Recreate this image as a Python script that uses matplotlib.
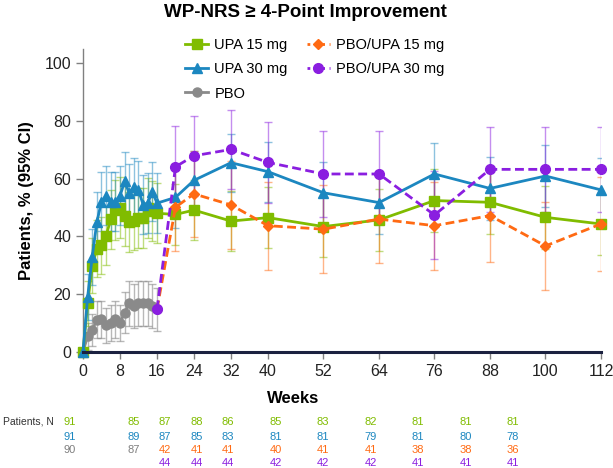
import matplotlib
matplotlib.use('Agg')
import matplotlib.pyplot as plt
from matplotlib.lines import Line2D

plt.rcParams['font.family'] = ['Liberation Sans', 'DejaVu Sans']

""" Data read off the reference chart """
weeks_db = [0, 1, 2, 3, 4, 5, 6, 7, 8, 9, 10, 11, 12, 13, 14, 15, 16]  # double-blind period
weeks_ext = [20, 24, 32, 40, 52, 64, 76, 88, 100, 112]  # blinded extension
weeks_switch = [16, 20, 24, 32, 40, 52, 64, 76, 88, 100, 112]

upa15 = [0, 16.8, 29.9, 35.8, 36.9, 40.3, 45.9, 49.0, 50.0, 47.0, 44.9, 45.5, 46.3, 46.4, 49.8, 48.7, 48.0,
         47.6, 49.1, 45.3, 46.5, 43.4, 45.7, 52.4, 51.8, 46.6, 44.3]
upa15_ci = [0, 7.7, 9.4, 9.9, 9.9, 10.1, 10.3, 10.4, 10.4, 10.4, 10.3, 10.3, 10.3, 10.3, 10.4, 10.4, 10.4,
            10.6, 10.5, 10.4, 10.5, 10.5, 10.7, 10.8, 10.9, 10.9, 10.8]
upa30 = [0, 19, 33, 45, 52, 54, 52, 52, 54, 59, 55, 57, 56, 51, 51.5, 55.5, 51.5,
         53.5, 59.4, 65.5, 62.4, 55.1, 51.7, 61.6, 56.6, 60.9, 56.1]
upa30_ci = [0, 8.1, 9.7, 10.2, 10.3, 10.2, 10.3, 10.3, 10.2, 10.1, 10.2, 10.2, 10.2, 10.3, 10.3, 10.2, 10.3,
            10.5, 10.3, 10.1, 10.4, 10.8, 10.9, 10.7, 10.8, 10.7, 11.0]
pbo = [0, 5.5, 7.6, 11.2, 11.3, 9.2, 10.0, 11.3, 10.1, 13.6, 16.8, 15.9, 16.8, 16.9, 16.8, 15.9, 14.8]
pbo_ci = [0, 4.7, 5.5, 6.5, 6.5, 6.0, 6.2, 6.5, 6.2, 7.1, 7.7, 7.6, 7.7, 7.8, 7.7, 7.6, 7.4]
pbo_upa15 = [14.8, 50.1, 54.7, 50.9, 43.7, 42.5, 46.0, 43.7, 47.2, 36.7, 44.3]
pbo_upa15_ci = [0, 15.1, 14.9, 15.3, 15.2, 15.3, 15.3, 15.2, 15.9, 15.3, 16.2]
pbo_upa30 = [14.8, 64.1, 67.9, 70.1, 65.6, 61.6, 61.6, 47.4, 63.2, 63.2, 63.2]
pbo_upa30_ci = [0, 14.0, 13.8, 13.6, 14.1, 14.8, 14.8, 15.1, 14.8, 14.8, 14.8]

xtick_weeks = [0, 8, 16, 24, 32, 40, 52, 64, 76, 88, 100, 112]

""" Patients, N table """
n_weeks = [0, 16, 24, 32, 40, 52, 64, 76, 88, 100, 112]
n_upa15 = [91, 85, 87, 88, 86, 85, 83, 82, 81, 81, 81]
n_upa30 = [91, 89, 87, 85, 83, 81, 81, 79, 81, 80, 78]
n_pbo = [90, 87]
n_pbo_upa15 = [42, 41, 41, 40, 41, 41, 38, 38, 36]
n_pbo_upa30 = [44, 44, 44, 42, 42, 42, 41, 41, 41]

GREEN = '#80bc00'
BLUE = '#1c87c0'
GREY = '#8a8a8a'
ORANGE = '#ff6a13'
PURPLE = '#8a1ee0'

fig = plt.figure(figsize=(6.13, 4.68), dpi=100)
ax = fig.add_axes([0.1354, 0.2479, 0.845, 0.6483])

weeks_all = weeks_db + weeks_ext
dash = (0, (3.2, 1.6))

# error bars first, lines on top
ax.errorbar(weeks_db, pbo, yerr=pbo_ci, fmt='none', ecolor=GREY, elinewidth=1, capsize=2.6, alpha=0.6, zorder=1)
ax.errorbar(weeks_all, upa15, yerr=upa15_ci, fmt='none', ecolor=GREEN, elinewidth=1, capsize=2.6, alpha=0.5, zorder=1)
ax.errorbar(weeks_all, upa30, yerr=upa30_ci, fmt='none', ecolor=BLUE, elinewidth=1, capsize=2.6, alpha=0.5, zorder=1)
ax.errorbar(weeks_switch[1:], pbo_upa15[1:], yerr=pbo_upa15_ci[1:], fmt='none', ecolor=ORANGE, elinewidth=1, capsize=2.6, alpha=0.5, zorder=1)
ax.errorbar(weeks_switch[1:], pbo_upa30[1:], yerr=pbo_upa30_ci[1:], fmt='none', ecolor=PURPLE, elinewidth=1, capsize=2.6, alpha=0.5, zorder=1)

ax.plot(weeks_db, pbo, color=GREY, lw=2, marker='o', ms=6.5, clip_on=False, zorder=3)
ax.plot(weeks_all, upa15, color=GREEN, lw=2, marker='s', ms=7, clip_on=False, zorder=3)
ax.plot(weeks_all, upa30, color=BLUE, lw=2, marker='^', ms=7, clip_on=False, zorder=4)
ax.plot(weeks_switch, pbo_upa15, color=ORANGE, lw=2, ls=dash, marker='D', ms=5.5, clip_on=False, zorder=5)
ax.plot(weeks_switch, pbo_upa30, color=PURPLE, lw=2, ls=dash, marker='o', ms=7, clip_on=False, zorder=6)

ax.set_xlim(0, 112)
ax.set_ylim(0, 105)
ax.set_xticks(xtick_weeks)
ax.set_yticks([0, 20, 40, 60, 80, 100])
ax.spines['top'].set_visible(False)
ax.spines['right'].set_visible(False)
ax.spines['left'].set_color('#808080')
ax.spines['left'].set_linewidth(1)
ax.spines['bottom'].set_color('#1b2140')
ax.spines['bottom'].set_linewidth(2.2)
ax.spines['bottom'].set_zorder(7)
ax.tick_params(axis='both', color='#808080', length=5, width=1, labelsize=11.5, labelcolor='#222222')

fig.text(0.498, 0.974, 'WP-NRS \u2265 4-Point Improvement', ha='center', va='center',
         fontsize=13.5, fontweight='bold')
fig.text(0.044, 0.5705, 'Patients, % (95% CI)', rotation=90, ha='center', va='center',
         fontsize=12, fontweight='bold')
fig.text(0.478, 0.149, 'Weeks', ha='center', va='center', fontsize=12, fontweight='bold')

""" Legend """
handles = [
    Line2D([], [], color=GREEN, lw=2, marker='s', ms=7),
    Line2D([], [], color=BLUE, lw=2, marker='^', ms=7),
    Line2D([], [], color=GREY, lw=2, marker='o', ms=6.5),
    Line2D([], [], color=ORANGE, lw=2, ls=':', marker='D', ms=5.5),
    Line2D([], [], color=PURPLE, lw=2, ls=':', marker='o', ms=7),
]
labels = ['UPA 15 mg', 'UPA 30 mg', 'PBO', 'PBO/UPA 15 mg', 'PBO/UPA 30 mg']
fig.legend(handles, labels, loc='upper left', bbox_to_anchor=(172 / 613, 1 - 25 / 468), ncol=2,
           frameon=False, fontsize=10.5, handlelength=1.6, handletextpad=0.4,
           columnspacing=1.3, labelspacing=0.7)

""" Patients, N table below the axis """
def table_x(w):
    return (70 + 3.955 * w) / 613

row_y = [1 - 422 / 468, 1 - 437 / 468, 1 - 450 / 468, 1 - 463 / 468]
fig.text(3 / 613, row_y[0], 'Patients, N', ha='left', va='center', fontsize=7.5, color='#333333')
for w, n in zip(n_weeks, n_upa15):
    fig.text(table_x(w), row_y[0], str(n), ha='center', va='center', fontsize=8, color=GREEN)
for w, n in zip(n_weeks, n_upa30):
    fig.text(table_x(w), row_y[1], str(n), ha='center', va='center', fontsize=8, color=BLUE)
for w, n in zip(n_weeks[:2], n_pbo):
    fig.text(table_x(w), row_y[2], str(n), ha='center', va='center', fontsize=8, color='#7f7f7f')
for w, n in zip(n_weeks[2:], n_pbo_upa15):
    fig.text(table_x(w), row_y[2], str(n), ha='center', va='center', fontsize=8, color=ORANGE)
for w, n in zip(n_weeks[2:], n_pbo_upa30):
    fig.text(table_x(w), row_y[3], str(n), ha='center', va='center', fontsize=8, color=PURPLE)

fig.savefig('out.png', dpi=100)
